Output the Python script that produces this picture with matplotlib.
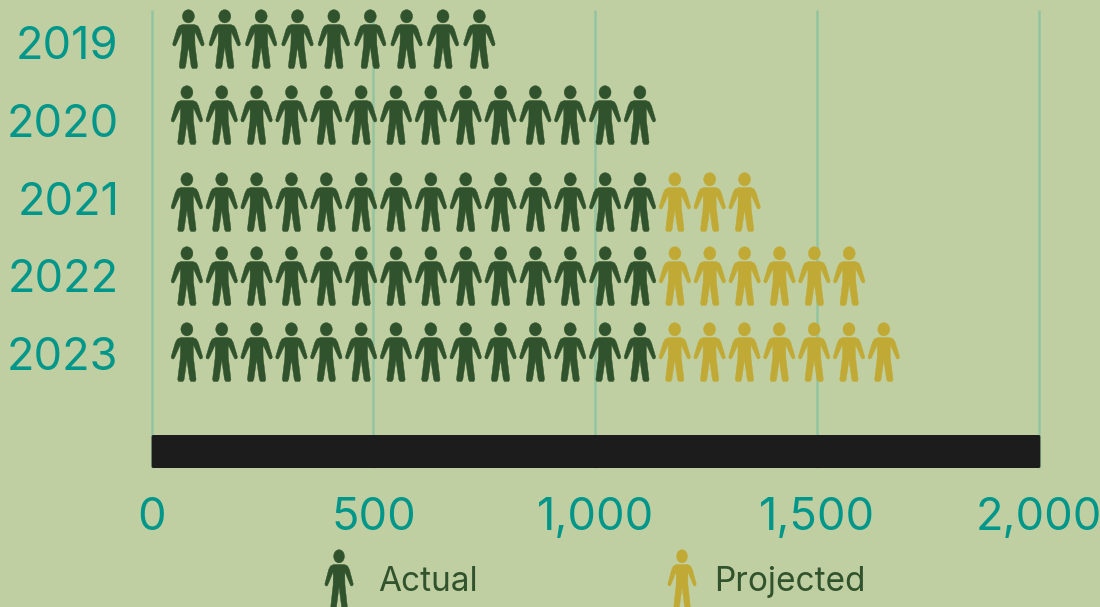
import matplotlib
matplotlib.use('Agg')
import matplotlib.pyplot as plt
from matplotlib.path import Path
from matplotlib.patches import PathPatch, FancyBboxPatch
from matplotlib.transforms import Affine2D
import numpy as np

years = ['2019', '2020', '2021', '2022', '2023']
actual_values = [738, 1100, 1100, 1100, 1100]
projected_values = [0, 0, 236, 472, 550]
actual_icons = [9, 14, 14, 14, 14]
projected_icons = [0, 0, 3, 6, 7]
x_ticks = [0, 500, 1000, 1500, 2000]
x_labels = ['0', '500', '1,000', '1,500', '2,000']

# pixel rows of the icon tops, the rows are not evenly spaced in the original
row_tops = [10, 86, 173, 247, 323]
year_label_x = [119, 119, 120, 119, 119]
year_label_y = [47, 125, 203, 280, 358]

BG = '#c0cfa1'
GREEN = '#30532d'
GOLD = '#c0aa35'
TEAL = '#00968a'
GRID = '#93c4a1'
FONT = 'Inter'

PX = 887 / 2000  # pixels per x unit


# Person shape, offsets in pixels from the centre of the head column and icon top
def person_path():
    head = Path.unit_circle().transformed(Affine2D().scale(6, 6.6).translate(0, 6.3))
    right = [(0, 14.5), (6, 14.5), (9.5, 16), (11.5, 19.5), (15.8, 34), (15, 35.8),
             (13.2, 36), (12, 34), (6.6, 22), (6.4, 26), (6.6, 35), (9.2, 56.5), (8.2, 58.5), (4, 58.5),
             (2.8, 56.5), (0, 37)]
    left = [(-x, y) for x, y in right[::-1]][:-1]
    pts = right + left + [right[0]]
    codes = [Path.MOVETO] + [Path.LINETO] * (len(pts) - 1)
    return Path.make_compound_path(head, Path(pts, codes))


def draw_person(ax, x, top, color, xscale=1.0):
    # x is in data units, the shape itself stays in pixel size
    tr = Affine2D().scale(xscale / PX, 1).translate(x + 1, top) + ax.transData
    p = PathPatch(person_path(), facecolor=color, edgecolor=color, lw=0.3,
                  joinstyle='round', transform=tr, clip_on=False, zorder=3)
    ax.add_patch(p)


fig = plt.figure(figsize=(11, 6.07), dpi=100, facecolor=BG)
ax = fig.add_axes([151.6 / 1100, 1 - 468 / 607, 887 / 1100, (468 - 10) / 607], facecolor=BG)
ax.set_xlim(0, 2000)
ax.set_ylim(468, 10)

for s in ax.spines.values():
    s.set_visible(False)
ax.set_yticks([])
ax.set_xticks(x_ticks)
ax.set_xticklabels(x_labels, fontsize=32.5, color=TEAL, family=FONT)
ax.tick_params(axis='x', length=0, pad=21)
ax.set_axisbelow(True)
ax.grid(axis='x', color=GRID, lw=1.8)
for g in ax.get_xgridlines():
    g.set_clip_on(False)
    g.set_solid_capstyle('butt')

# the thick black axis bar
bar = FancyBboxPatch((0, 435), 2004, 33, boxstyle='round,pad=0,rounding_size=4',
                     mutation_aspect=0.44, fc='#1c1c1c', ec='none', zorder=2, clip_on=False)
ax.add_patch(bar)

for i, year in enumerate(years):
    n = actual_icons[i] + projected_icons[i]
    step = (actual_values[i] + projected_values[i]) / n
    for k in range(n):
        color = GREEN if k < actual_icons[i] else GOLD
        draw_person(ax, step * (k + 1), row_tops[i], color)
    ax.text((year_label_x[i] - 152) / PX, year_label_y[i], year, color=TEAL, fontsize=32.5,
            family=FONT, ha='right', va='center', clip_on=False)

# legend, the icons run off the bottom of the figure
draw_person(ax, (339 - 152) / PX, 550, GREEN, 0.9)
draw_person(ax, (682 - 152) / PX, 550, GOLD, 0.9)
ax.text((379 - 152) / PX, 591, 'Actual', color=GREEN, fontsize=24, family=FONT,
        ha='left', va='baseline', clip_on=False)
ax.text((715 - 152) / PX, 591, 'Projected', color=GREEN, fontsize=24, family=FONT,
        ha='left', va='baseline', clip_on=False)

fig.savefig('out.png', dpi=100, facecolor=BG)
